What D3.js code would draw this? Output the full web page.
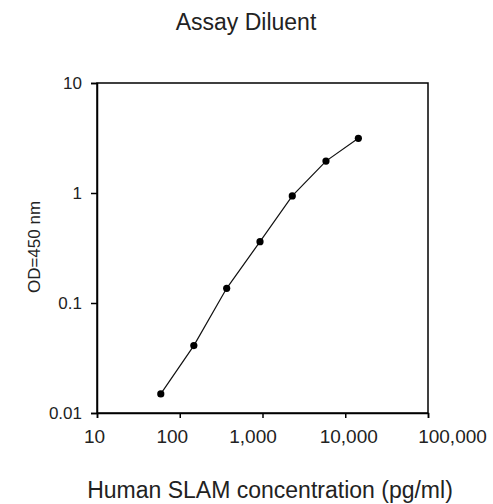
<!DOCTYPE html>
<html>
<head>
<meta charset="utf-8">
<script src="https://cdn.jsdelivr.net/npm/d3@7"></script>
<style>
    body { margin: 0; background: #fff; }
    svg { display: block; font-family: "Liberation Sans", Arial, sans-serif; }
</style>
</head>
<body>
<div id="chart"></div>
<script>
// Data
const concentration = [59, 148, 369, 933, 2290, 5850, 14400];
const od450 = [0.0149, 0.041, 0.136, 0.361, 0.94, 1.95, 3.14];
const xTicks = [10, 100, 1000, 10000, 100000];
const yTicks = [0.01, 0.1, 1, 10];

const width = 493, height = 504;
const margin = { top: 83, right: 65, bottom: 91, left: 97 };
const innerW = width - margin.left - margin.right;
const innerH = height - margin.top - margin.bottom;

const svg = d3.select("#chart")
    .append("svg")
    .attr("width", width)
    .attr("height", height);

const g = svg.append("g")
    .attr("transform", `translate(${margin.left},${margin.top})`);

// Scales
const x = d3.scaleLog().domain([10, 100000]).range([0, innerW]);
const y = d3.scaleLog().domain([0.01, 10]).range([innerH, 0]);

// Frame
g.append("rect")
    .attr("width", innerW)
    .attr("height", innerH)
    .attr("fill", "none")
    .attr("stroke", "#000")
    .attr("stroke-width", 1.5);

// Axes
const xAxis = g.append("g")
    .attr("transform", `translate(0,${innerH})`)
    .call(d3.axisBottom(x).tickValues(xTicks).tickFormat(d3.format(",")).tickSizeOuter(0).tickSize(5).tickPadding(12));

const yAxis = g.append("g")
    .call(d3.axisLeft(y).tickValues(yTicks).tickFormat(d3.format("~g")).tickSizeOuter(0).tickSize(6).tickPadding(9));

[xAxis, yAxis].forEach(a => {
    a.select(".domain").attr("stroke", "#000").attr("stroke-width", 1.5);
    a.selectAll(".tick line").attr("stroke", "#000").attr("stroke-width", 1.5);
    a.selectAll("text").attr("fill", "#222").attr("font-family", "Liberation Sans, Arial, sans-serif");
});
// the original's x labels sit a little off their ticks
const xLabelShift = [-3, -8, -10, 3, 24];
xAxis.selectAll("text")
    .attr("font-size", 19)
    .attr("dx", (d, i) => xLabelShift[i]);
yAxis.selectAll("text").attr("font-size", 17);

// Curve
const line = d3.line()
    .x((d, i) => x(concentration[i]))
    .y(d => y(d));

g.append("path")
    .datum(od450)
    .attr("fill", "none")
    .attr("stroke", "#111")
    .attr("stroke-width", 1.2)
    .attr("d", line);

g.selectAll("circle")
    .data(od450)
    .enter().append("circle")
    .attr("cx", (d, i) => x(concentration[i]))
    .attr("cy", d => y(d))
    .attr("r", 3.6)
    .attr("fill", "#000");

// Titles
svg.append("text")
    .attr("x", 246)
    .attr("y", 30)
    .attr("text-anchor", "middle")
    .attr("font-size", 23)
    .attr("fill", "#222")
    .text("Assay Diluent");

svg.append("text")
    .attr("x", 270)
    .attr("y", 498)
    .attr("text-anchor", "middle")
    .attr("font-size", 23)
    .attr("fill", "#222")
    .text("Human SLAM concentration (pg/ml)");

svg.append("text")
    .attr("transform", "translate(40,247) rotate(-90)")
    .attr("text-anchor", "middle")
    .attr("font-size", 17)
    .attr("fill", "#222")
    .text("OD=450 nm");
</script>
</body>
</html>
